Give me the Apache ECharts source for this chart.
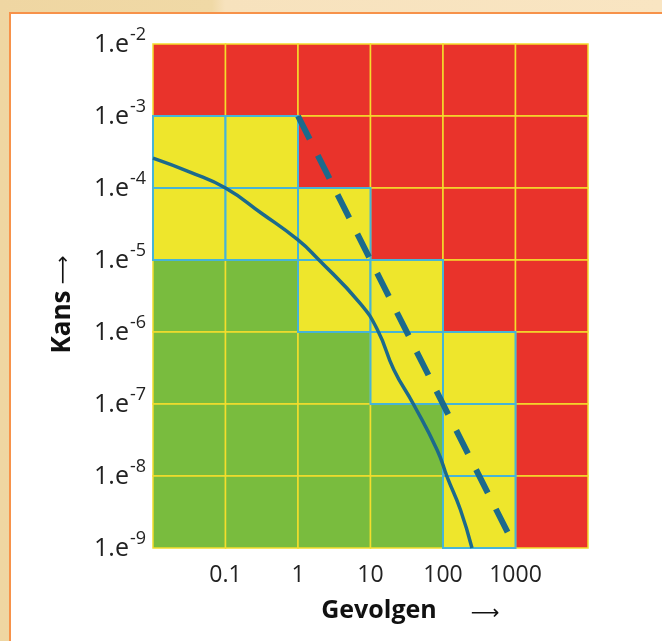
<!DOCTYPE html>
<html>
<head>
<meta charset="utf-8">
<script src="https://cdn.jsdelivr.net/npm/echarts@6/dist/echarts.min.js"></script>
<style>
  html, body { margin:0; padding:0; width:662px; height:641px; overflow:hidden; }
  body { background: linear-gradient(90deg, #efd6a2 0%, #f0d9a6 32%, #f7e2bd 34%, #f9e5c2 100%); position:relative; }
  #panel { position:absolute; left:9px; top:12px; width:660px; height:640px; background:#fff;
           border-left:2px solid #f7924a; border-top:2px solid #f7924a; }
  #chart { position:absolute; left:0; top:0; width:662px; height:641px; }
</style>
</head>
<body>
<div id="panel"></div>
<div id="chart"></div>
<script>
// ---- data ----
var xEdges = [0.01, 0.1, 1, 10, 100, 1000, 10000];           // Gevolgen (log)
var yEdges = [1e-2, 1e-3, 1e-4, 1e-5, 1e-6, 1e-7, 1e-8, 1e-9]; // Kans (log), top to bottom
// risk class per row (top row first), per column (left to right): R red, Y yellow, G green
var riskRows = [
  ['R','R','R','R','R','R'],
  ['Y','Y','R','R','R','R'],
  ['Y','Y','Y','R','R','R'],
  ['G','G','Y','Y','R','R'],
  ['G','G','G','Y','Y','R'],
  ['G','G','G','G','Y','R'],
  ['G','G','G','G','Y','R']
];
var curveX = [0.01, 0.033, 0.1, 0.31, 1, 1.86, 7.2, 12.6, 21, 39, 83, 115, 174, 251];
var curveY = [2.6e-4, 1.65e-4, 1e-4, 4.5e-5, 1.9e-5, 1.05e-5, 2.5e-6, 1.05e-6, 3.0e-7, 1.0e-7, 2.3e-8, 9.5e-9, 3.4e-9, 1e-9];
var dashX = [1, 1000];
var dashY = [1e-3, 1e-9];
var xTickLabels = {'-1':'0.1','0':'1','1':'10','2':'100','3':'1000'};
var yTickExponents = ['-9','-8','-7','-6','-5','-4','-3','-2'];

// ---- build ----
var colorMap = { R:'#e9332b', Y:'#eee62c', G:'#79bc3e' };
var cellsBack = [], cellsFront = [];
riskRows.forEach(function(row, r){
  row.forEach(function(k, c){
    var item = [xEdges[c], xEdges[c+1], yEdges[r+1], yEdges[r], k];
    if (k === 'Y') cellsFront.push(item); else cellsBack.push(item);
  });
});
var cells = cellsBack.concat(cellsFront);
var curveData = curveX.map(function(x,i){ return [x, curveY[i]]; });
var dashData = dashX.map(function(x,i){ return [x, dashY[i]]; });

var chart = echarts.init(document.getElementById('chart'), null, {renderer:'canvas'});
var option = {
  backgroundColor: 'transparent',
  animation: false,
  grid: { left:153, top:44, right:74, bottom:93 },
  xAxis: {
    type:'log', logBase:10, min:0.01, max:10000, splitNumber:6,
    axisLine:{show:false}, axisTick:{show:false}, splitLine:{show:false},
    axisLabel:{
      margin:16, color:'#222', fontFamily:'Open Sans', fontSize:23,
      formatter:function(v){ var e = Math.round(Math.log10(v)); return xTickLabels[String(e)] || ''; }
    }
  },
  yAxis: {
    type:'log', logBase:10, min:1e-9, max:1e-2, splitNumber:7,
    axisLine:{show:false}, axisTick:{show:false}, splitLine:{show:false},
    axisLabel:{
      margin:7, color:'#222',
      formatter:function(v){ var e = Math.round(Math.log10(v)); return '{b|1.e}{s|' + e + '}'; },
      rich:{
        b:{ fontFamily:'Open Sans', fontSize:25, color:'#222', lineHeight:26, verticalAlign:'bottom' },
        s:{ fontFamily:'Open Sans', fontSize:18, color:'#222', lineHeight:18, verticalAlign:'bottom', padding:[0,0,13,1] }
      }
    }
  },
  series: [
    {
      type:'custom', z:1,
      data: cells,
      renderItem: function(params, api){
        var p0 = api.coord([api.value(0), api.value(3)]);
        var p1 = api.coord([api.value(1), api.value(2)]);
        var k = cells[params.dataIndex][4];
        var isY = k === 'Y';
        return {
          type:'rect',
          shape:{ x:p0[0], y:p0[1], width:p1[0]-p0[0], height:p1[1]-p0[1] },
          style:{ fill: colorMap[k], stroke: isY ? '#47b4d6' : '#f4dd2c', lineWidth: isY ? 2 : 1.5 }
        };
      }
    },
    {
      type:'line', z:5, data: curveData, smooth:0.5, showSymbol:false, symbol:'none',
      lineStyle:{ color:'#1c6a8c', width:3.5 }
    },
    {
      type:'line', z:6, data: dashData, showSymbol:false, symbol:'none',
      lineStyle:{ color:'#1c6a8c', width:6, type:[26,18], cap:'butt' }
    }
  ],
  graphic: [
    { type:'text', x:63, y:322, rotation:Math.PI/2, z:10,
      style:{ text:'Kans', font:'bold 26px "Open Sans"', fill:'#111', align:'center', verticalAlign:'middle', textAlign:'center', textVerticalAlign:'middle' } },
    { type:'text', x:64, y:270, rotation:Math.PI/2, z:10,
      style:{ text:'⟶', font:'20px "DejaVu Sans"', fill:'#111', align:'center', verticalAlign:'middle', textAlign:'center', textVerticalAlign:'middle' } },
    { type:'text', x:379, y:611, z:10,
      style:{ text:'Gevolgen', font:'bold 25px "Open Sans"', fill:'#111', align:'center', verticalAlign:'middle', textAlign:'center', textVerticalAlign:'middle' } },
    { type:'text', x:485, y:614, z:10,
      style:{ text:'⟶', font:'20px "DejaVu Sans"', fill:'#111', align:'center', verticalAlign:'middle', textAlign:'center', textVerticalAlign:'middle' } }
  ]
};
chart.setOption(option);
</script>
</body>
</html>
